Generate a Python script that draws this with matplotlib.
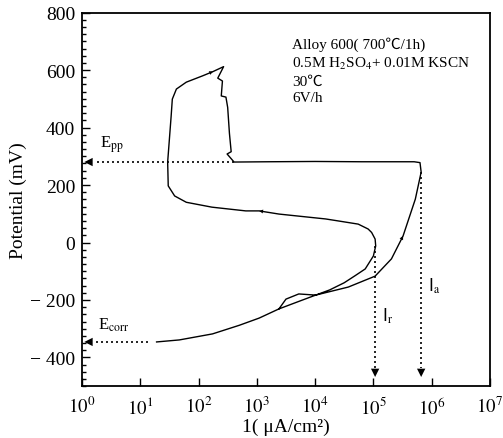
import matplotlib
matplotlib.use("Agg")
import matplotlib.pyplot as plt
from matplotlib.ticker import MultipleLocator, LogLocator, NullFormatter
import numpy as np

plt.rcParams['font.family'] = ['Liberation Serif', 'Noto Sans CJK SC', 'DejaVu Sans']
plt.rcParams['mathtext.fontset'] = 'stix'

# ---- data (log10 current density in uA/cm2, potential in mV) ----
forward_logi = [1.28, 1.67, 2.24, 2.70, 3.04, 3.38, 3.72, 4.01, 4.57, 5.03, 5.31, 5.51, 5.72, 5.82, 5.80]
forward_E    = [-346, -339, -318, -288, -263, -231, -205, -183, -155, -117, -57, 23, 151, 245, 278]

drop_logi = [5.70, 4.80, 4.00, 3.20, 2.61, 2.49, 2.56, 2.53, 2.50, 2.47, 2.39, 2.41, 2.33, 2.43]
drop_E    = [281, 281, 282, 281, 280, 308, 316, 380, 470, 506, 510, 562, 572, 612]

reverse_logi = [2.25, 2.07, 1.79, 1.62, 1.55, 1.53, 1.50, 1.47, 1.48, 1.59, 1.79, 2.23, 2.81, 3.04,
                3.38, 4.18, 4.40, 4.74, 4.91, 4.97, 5.03, 5.04, 5.00, 4.86, 4.69, 4.50, 4.25, 4.01,
                3.72, 3.50, 3.38]
reverse_E    = [595, 580, 558, 534, 499, 440, 360, 280, 197, 162, 140, 123, 110, 110,
                99, 82, 75, 64, 47, 35, 12, -12, -47, -92, -115, -140, -165, -183,
                -179, -197, -231]

E_pp = 280
E_corr = -346
logi_Ecorr_dot_end = 1.13
logi_pp_dot_end = 2.61
logi_Ir = 5.03
logi_Ia = 5.82
E_Ir_top = -12
E_Ia_top = 245
E_arrow_tip = -468

x_ticks = [10**k for k in range(0, 8)]
x_ticklabels = [r'$10^{%d}$' % k for k in range(0, 8)]
y_ticks = [-400, -200, 0, 200, 400, 600, 800]
y_ticklabels = ['\u2212 400', '\u2212 200', '0', '200', '400', '600', '800']

info_lines = ['Alloy 600( 700\u2103/1h)',
              r'0.5M H$_2$SO$_4$+ 0.01M KSCN',
              '30\u2103',
              '6V/h']

# ---- figure ----
fig = plt.figure(figsize=(5.03, 4.39), dpi=100)
ax = fig.add_axes([0.163, 0.118, 0.811, 0.851])
ax.set_xscale('log')
ax.set_xlim(1, 1e7)
ax.set_ylim(-500, 800)

curve_x = np.power(10.0, forward_logi + drop_logi + reverse_logi)
curve_y = np.array(forward_E + drop_E + reverse_E)
ax.plot(curve_x, curve_y, color='black', lw=1.0)

# small direction arrows on the curve
def dir_arrow(i0, i1):
    ax.annotate('', xy=(curve_x[i1], curve_y[i1]), xytext=(curve_x[i0], curve_y[i0]),
                arrowprops=dict(arrowstyle='-|>', color='black', lw=0, mutation_scale=7,
                                shrinkA=0, shrinkB=0))
nf = len(forward_logi)
nd = len(drop_logi)
dir_arrow(10, 11)                      # forward anodic branch, upward
dir_arrow(nf + nd + 1, nf + nd + 0)    # upper branch toward the tip
dir_arrow(nf + nd + 14, nf + nd + 13)  # middle branch, leftward

big = dict(arrowstyle='-|>', color='black', lw=0, mutation_scale=15, shrinkA=0, shrinkB=0)
dots = (0, (1.2, 1.8))
# dotted guide lines with arrows
ax.plot([10**logi_pp_dot_end, 10**0.2], [E_pp, E_pp], ls=dots, color='black', lw=1.2)
ax.annotate('', xy=(10**0.04, E_pp), xytext=(10**0.24, E_pp), arrowprops=big)
ax.plot([10**logi_Ecorr_dot_end, 10**0.2], [E_corr, E_corr], ls=dots, color='black', lw=1.2)
ax.annotate('', xy=(10**0.04, E_corr), xytext=(10**0.24, E_corr), arrowprops=big)
for lg, top in [(logi_Ir, E_Ir_top), (logi_Ia, E_Ia_top)]:
    ax.plot([10**lg, 10**lg], [top, E_arrow_tip + 30], ls=dots, color='black', lw=1.2)
    ax.annotate('', xy=(10**lg, E_arrow_tip), xytext=(10**lg, E_arrow_tip + 45), arrowprops=big)

# labels
ax.text(10**0.31, 343, r'E$_{\rm pp}$', fontsize=12, va='center', ha='left')
ax.text(10**0.27, -284, r'E$_{\rm corr}$', fontsize=12, va='center', ha='left')
ax.text(10**5.15, -255, r'I$_{\rm r}$', fontsize=12, va='center', ha='left', family='DejaVu Sans')
ax.text(10**5.93, -150, r'I$_{\rm a}$', fontsize=12, va='center', ha='left', family='DejaVu Sans')

for line, yy in zip(info_lines, [45, 64, 82, 98]):
    fig.text(292 / 503, 1 - yy / 439, line, fontsize=11, va='center', ha='left')

# ticks
ax.set_xticks(x_ticks)
ax.set_xticklabels(x_ticklabels)
ax.xaxis.set_minor_locator(LogLocator(base=10, subs=np.arange(2, 10)))
ax.xaxis.set_minor_formatter(NullFormatter())
ax.set_yticks(y_ticks)
ax.set_yticklabels(y_ticklabels)
ax.yaxis.set_minor_locator(MultipleLocator(25))
ax.tick_params(which='both', direction='in', top=False, right=False, width=1.0)
ax.tick_params(axis='y', labelsize=14, pad=5)
ax.tick_params(axis='x', labelsize=13.5, pad=7)
ax.tick_params(which='major', length=6)
ax.tick_params(which='minor', length=3)
for s in ax.spines.values():
    s.set_linewidth(1.3)

ax.set_xlabel('1( \u03bcA/cm\u00b2)', fontsize=14, labelpad=0)
ax.set_ylabel('Potential (mV)', fontsize=14, labelpad=2)

fig.savefig('out.png', dpi=100)
